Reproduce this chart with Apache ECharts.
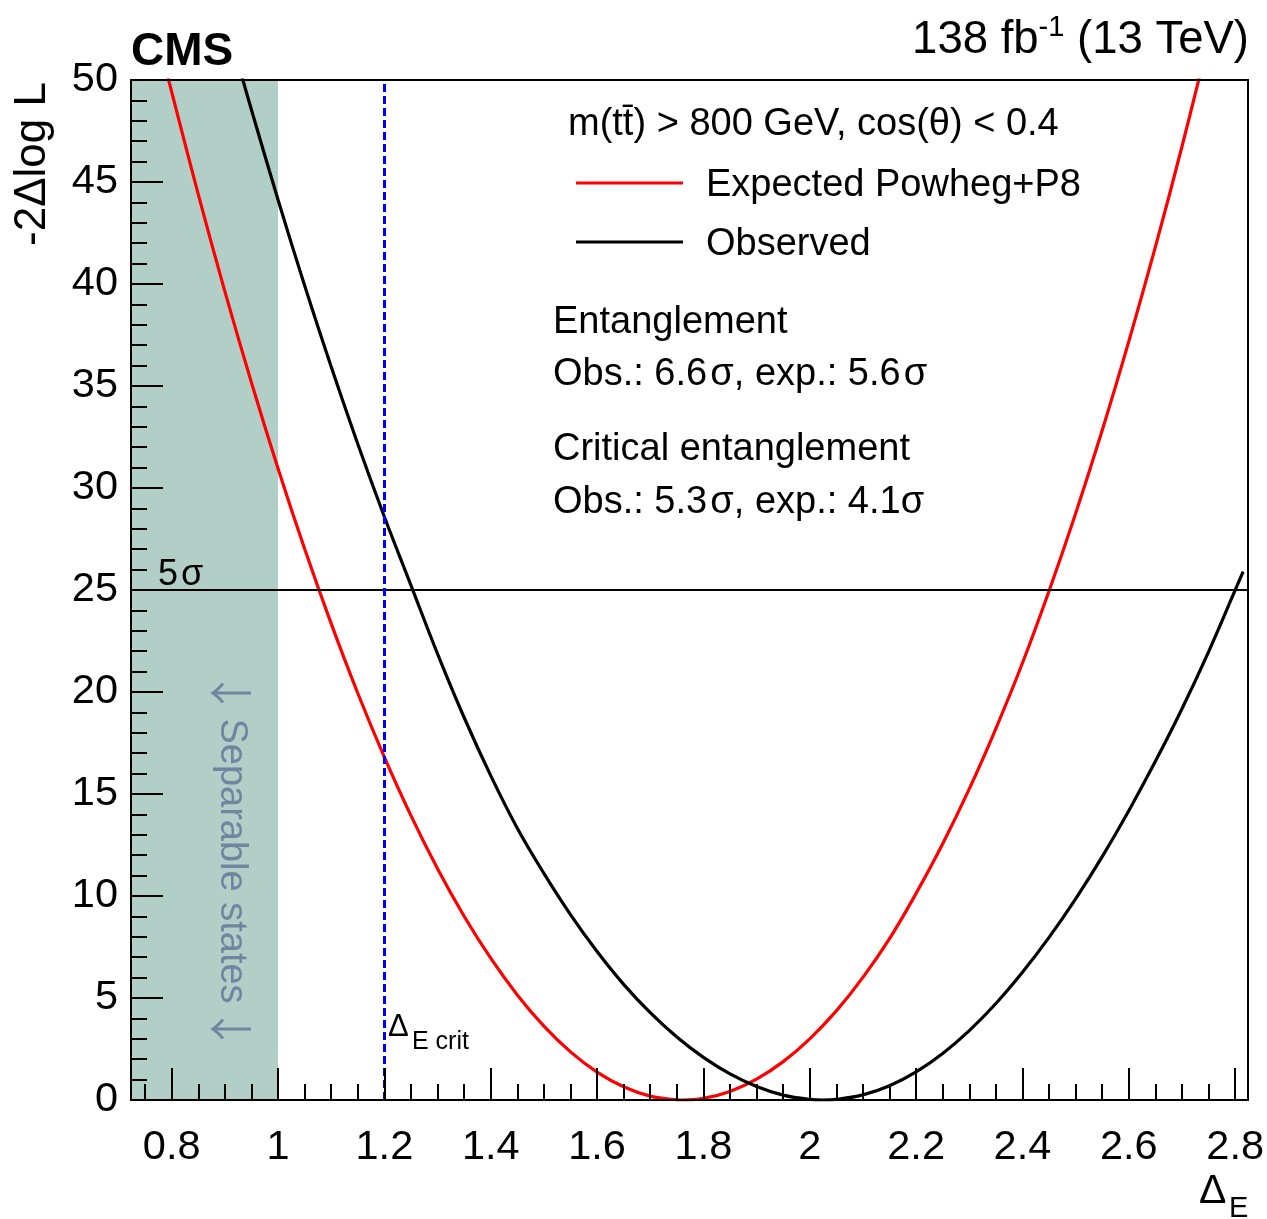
<!DOCTYPE html>
<html>
<head>
<meta charset="utf-8">
<script src="https://cdn.jsdelivr.net/npm/echarts@6/dist/echarts.min.js"></script>
<style>
  html, body { margin: 0; padding: 0; background: #ffffff; }
  #chart { width: 1267px; height: 1219px; }
</style>
</head>
<body>
<div id="chart"></div>
<script>
// Profile likelihood scan of the entanglement marker Delta_E
const FONT = '"Liberation Sans", Arial, Helvetica, sans-serif';

// Expected (Powheg+P8) scan: Delta_E values and -2 Delta log L
const expectedDeltaE = [0.79, 0.85, 0.90, 0.95, 1.00, 1.05, 1.10, 1.15, 1.20, 1.25,
  1.30, 1.35, 1.40, 1.45, 1.50, 1.55, 1.60, 1.65, 1.70, 1.75, 1.76,
  1.80, 1.85, 1.90, 1.95, 2.00, 2.05, 2.10, 2.15, 2.20, 2.25,
  2.30, 2.35, 2.40, 2.45, 2.50, 2.55, 2.60, 2.65, 2.70, 2.74];
const expectedNll = [50.43, 44.39, 39.64, 35.17, 30.96, 27.02, 23.35, 19.94, 16.81, 13.94,
  11.34, 9.01, 6.95, 5.15, 3.62, 2.36, 1.37, 0.65, 0.19, 0.01, 0.0,
  0.08, 0.42, 1.02, 1.88, 3.0, 4.37, 6.01, 7.91, 10.13, 12.56,
  15.25, 18.21, 21.42, 24.95, 28.75, 32.83, 37.19, 41.82, 46.74, 50.9];

// Observed scan
const observedDeltaE = [0.93, 0.95, 1.00, 1.05, 1.10, 1.15, 1.20, 1.25, 1.30, 1.35,
  1.40, 1.45, 1.50, 1.55, 1.60, 1.65, 1.70, 1.75, 1.80, 1.85,
  1.90, 1.95, 2.00, 2.025, 2.05, 2.10, 2.15, 2.20, 2.25, 2.30,
  2.35, 2.40, 2.45, 2.50, 2.55, 2.60, 2.65, 2.70, 2.75, 2.80, 2.815];
const observedNll = [50.36, 48.54, 44.13, 39.93, 35.94, 32.16, 28.59, 25.23, 21.87, 18.75,
  15.90, 13.32, 11.11, 9.09, 7.28, 5.67, 4.28, 3.09, 2.09, 1.28,
  0.66, 0.24, 0.03, 0.0, 0.03, 0.25, 0.70, 1.38, 2.28, 3.40,
  4.73, 6.26, 7.97, 9.86, 11.93, 14.18, 16.60, 19.18, 21.97, 24.99, 25.90];

// Axis ticks
const xMajorTicks = [0.8, 1, 1.2, 1.4, 1.6, 1.8, 2, 2.2, 2.4, 2.6, 2.8];
const xMinorTicks = [0.75, 0.85, 0.9, 0.95, 1.05, 1.1, 1.15, 1.25, 1.3, 1.35,
  1.45, 1.5, 1.55, 1.65, 1.7, 1.75, 1.85, 1.9, 1.95, 2.05, 2.1, 2.15,
  2.25, 2.3, 2.35, 2.45, 2.5, 2.55, 2.65, 2.7, 2.75];
const xRange = [0.7235, 2.8245];
const yRange = [0, 50];
const yStep = 5;

// Reference levels
const fiveSigmaLevel = 25;
const criticalDeltaE = 1.2;
const separableLimit = 1.0;

const BLACK = '#000000';
const SLATE = '#6e86a0';
const pairs = (xs, ys) => xs.map((x, i) => [x, ys[i]]);
const axisLineStyle = { color: BLACK, width: 2 };

// Legend key: a 3px bar sitting in the upper third of a 9px icon box,
// so the bar lines up with the visual centre of the label text
const LEGEND_KEY = 'path://M0,0H107V3H0Z M0,9H107V9.001H0Z';

const chart = echarts.init(document.getElementById('chart'), null, { renderer: 'canvas' });

function txt(x, y, text, size, extra) {
  return Object.assign({
    type: 'text', x: x, y: y, z: 50,
    style: Object.assign({
      text: text, fill: BLACK, font: size + 'px ' + FONT, fontSize: size, fontFamily: FONT,
      align: 'left', verticalAlign: 'middle', textAlign: 'left', textVerticalAlign: 'middle'
    }, (extra && extra.style) || {})
  }, (extra && extra.el) || {});
}

const option = {
  animation: false,
  backgroundColor: '#ffffff',
  grid: { left: 131, right: 18, top: 80, bottom: 119, show: false },
  legend: {
    left: 576, top: 163, orient: 'vertical', padding: 0,
    itemWidth: 107, itemHeight: 9, itemGap: 13, icon: LEGEND_KEY,
    itemStyle: { borderWidth: 0 },
    selectedMode: false,
    textStyle: { fontSize: 38, fontFamily: FONT, color: BLACK, lineHeight: 46, padding: [0, 0, 0, 18] },
    data: ['Expected Powheg+P8', 'Observed']
  },
  xAxis: [
    {
      type: 'value', min: xRange[0], max: xRange[1], position: 'bottom', z: 10,
      axisLine: { show: true, onZero: false, lineStyle: axisLineStyle },
      axisTick: { show: true, inside: true, length: 32, customValues: xMajorTicks, lineStyle: axisLineStyle },
      axisLabel: { show: true, customValues: xMajorTicks, margin: 27, fontSize: 41.5, fontFamily: FONT, color: BLACK },
      splitLine: { show: false }
    },
    {
      type: 'value', min: xRange[0], max: xRange[1], position: 'bottom', z: 10,
      axisLine: { show: false },
      axisTick: { show: true, inside: true, length: 16, customValues: xMinorTicks, lineStyle: axisLineStyle },
      axisLabel: { show: false },
      splitLine: { show: false }
    },
    {
      type: 'value', min: xRange[0], max: xRange[1], position: 'top', z: 10,
      axisLine: { show: true, onZero: false, lineStyle: axisLineStyle },
      axisTick: { show: false }, axisLabel: { show: false }, splitLine: { show: false }
    }
  ],
  yAxis: [
    {
      type: 'value', min: yRange[0], max: yRange[1], interval: yStep, position: 'left', z: 10,
      axisLine: { show: true, onZero: false, lineStyle: axisLineStyle },
      axisTick: { show: true, inside: true, length: 32, lineStyle: axisLineStyle },
      minorTick: { show: true, splitNumber: 5, length: 16, lineStyle: axisLineStyle },
      axisLabel: { margin: 13, fontSize: 41.5, fontFamily: FONT, color: BLACK },
      splitLine: { show: false }, minorSplitLine: { show: false }
    },
    {
      type: 'value', min: yRange[0], max: yRange[1], position: 'right', z: 10,
      axisLine: { show: true, onZero: false, lineStyle: axisLineStyle },
      axisTick: { show: false }, axisLabel: { show: false }, splitLine: { show: false }
    }
  ],
  series: [
    {
      name: 'Expected Powheg+P8', type: 'line', xAxisIndex: 0, yAxisIndex: 0,
      data: pairs(expectedDeltaE, expectedNll),
      showSymbol: false, smooth: 0.4, clip: true, z: 4,
      lineStyle: { color: '#ff0000', width: 3.2 },
      itemStyle: { color: '#ff0000' },
      markArea: {
        silent: true,
        itemStyle: { color: '#b1cfc7' },
        data: [[{ xAxis: xRange[0] }, { xAxis: separableLimit }]]
      }
    },
    {
      name: 'Observed', type: 'line', xAxisIndex: 0, yAxisIndex: 0,
      data: pairs(observedDeltaE, observedNll),
      showSymbol: false, smooth: 0.4, clip: true, z: 4,
      lineStyle: { color: BLACK, width: 3.2 },
      itemStyle: { color: BLACK },
      markLine: {
        silent: true, symbol: ['none', 'none'], label: { show: false },
        data: [
          { yAxis: fiveSigmaLevel, lineStyle: { color: BLACK, width: 2, type: 'solid' } },
          { xAxis: criticalDeltaE, lineStyle: { color: '#0000ff', width: 3, type: [8, 4] } }
        ]
      }
    }
  ],
  graphic: [
    txt(131, 52, 'CMS', 46, { style: { font: 'bold 46px ' + FONT, fontWeight: 'bold' } }),
    {
      type: 'text', x: 1249, y: 40, z: 50,
      style: {
        text: '{n|138 fb}{s|-1}{n| (13 TeV)}',
        align: 'right', verticalAlign: 'middle', textAlign: 'right', textVerticalAlign: 'middle',
        fill: BLACK,
        rich: {
          n: { fontSize: 45.5, lineHeight: 54, fontFamily: FONT, fill: BLACK },
          s: { fontSize: 29, lineHeight: 29, fontFamily: FONT, fill: BLACK, verticalAlign: 'top' }
        }
      }
    },
    txt(33, 82, '-2\u0394log L', 44, { el: { rotation: Math.PI / 2 }, style: { align: 'right', textAlign: 'right' } }),
    txt(568, 125, 'm(tt\u0304) > 800 GeV, cos(\u03b8) < 0.4', 38),
    txt(553, 323, 'Entanglement', 38),
    txt(553, 375, 'Obs.: 6.6\u200a\u03c3, exp.: 5.6\u200a\u03c3', 38),
    txt(553, 450, 'Critical entanglement', 38),
    txt(553, 503, 'Obs.: 5.3\u200a\u03c3, exp.: 4.1\u03c3', 38),
    txt(158, 575, '5\u200a\u03c3', 36),
    {
      type: 'text', x: 231, y: 861, z: 50, rotation: -Math.PI / 2,
      style: {
        text: '{a|\u2193} {t|Separable states} {a|\u2193}',
        align: 'center', verticalAlign: 'middle', textAlign: 'center', textVerticalAlign: 'middle',
        fill: SLATE,
        rich: {
          a: { fontSize: 44, fontFamily: '"Noto Sans CJK SC", "DejaVu Sans", sans-serif', fill: SLATE },
          t: { fontSize: 38, fontFamily: FONT, fill: SLATE }
        }
      }
    },
    txt(388, 1027, '\u0394', 31),
    txt(412, 1042, 'E crit', 25),
    txt(1199, 1192, '\u0394', 41),
    txt(1229, 1209, 'E', 29)
  ]
};

chart.setOption(option);
</script>
</body>
</html>
